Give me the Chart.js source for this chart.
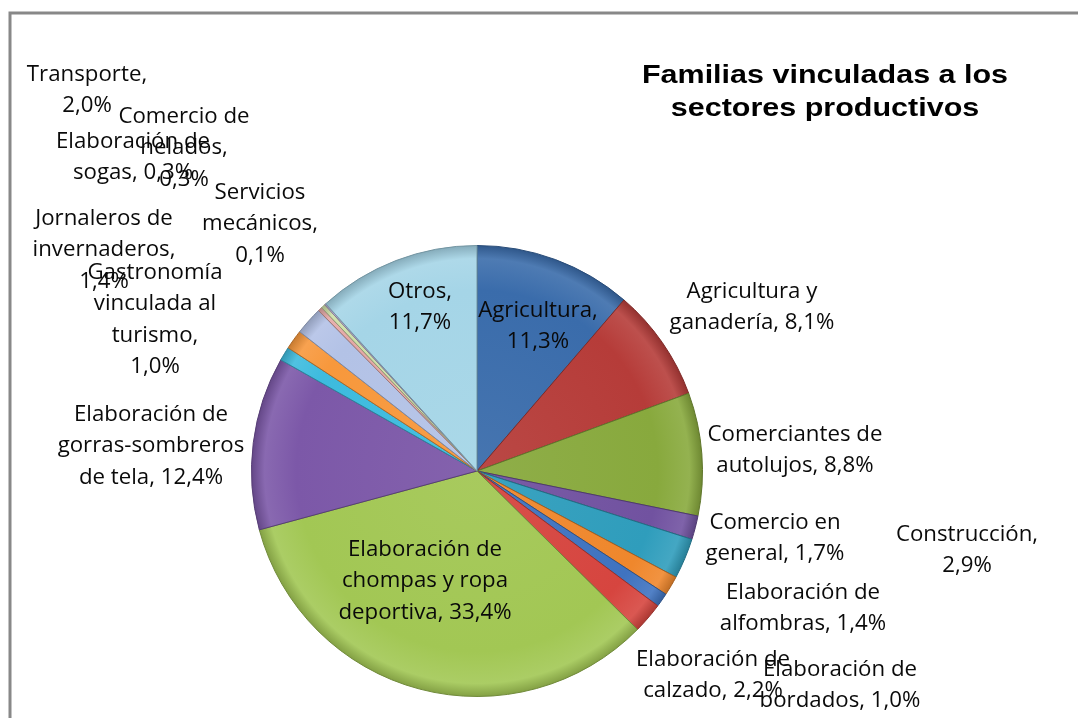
<!DOCTYPE html>
<html><head><meta charset="utf-8">
<script src="https://cdn.jsdelivr.net/npm/chart.js@4/dist/chart.umd.min.js"></script>
<style>html,body{margin:0;padding:0;background:#fff;overflow:hidden}canvas{display:block}</style>
</head><body>
<canvas id="c" width="1078" height="718"></canvas>
<script>
// ---- data ----
const categories = [
  "Agricultura",
  "Agricultura y ganadería",
  "Comerciantes de autolujos",
  "Comercio en general",
  "Construcción",
  "Elaboración de alfombras",
  "Elaboración de bordados",
  "Elaboración de calzado",
  "Elaboración de chompas y ropa deportiva",
  "Elaboración de gorras-sombreros de tela",
  "Gastronomía vinculada al turismo",
  "Jornaleros de invernaderos",
  "Transporte",
  "Elaboración de sogas",
  "Comercio de helados",
  "Servicios mecánicos",
  "Otros"
];
const values = [11.3, 8.1, 8.8, 1.7, 2.9, 1.4, 1.0, 2.2, 33.4, 12.4, 1.0, 1.4, 2.0, 0.3, 0.3, 0.1, 11.7];
const titleLines = ["Familias vinculadas a los", "sectores productivos"];

// ---- style / layout ----
const colors = ["#3a6cab","#b63c39","#88a93d","#7152a0","#2f9dbc","#ef872c","#3f73c0","#d6453f",
                "#a2c754","#7c58a8","#3dbbde","#f7983c","#b3c2e6","#e4a8a6","#cddfa8","#bcadd6","#a5d5e7"];
// words per line for each label
const labelWrap = [[1,1],[2,2],[2,2],[2,2],[1,1],[2,2],[2,2],[2,2],[2,3,2],[2,1,3],[1,2,1,1],[2,1,1],[1,1],[2,2],[2,1,1],[1,1,1],[1,1]];
// label centre (x) and first-line centre (y)
const labelAnchor = [[538,311],[752,292],[795,435],[775,523],[967,535],[803,593],[840,670],[713,660],
                     [425,550],[151,415],[155,273],[104,219],[87,75],[133,142],[184,117],[260,193],[420,292]];
const LINE_H = 31.5;

function hexToRgb(h){h=h.replace('#','');return [parseInt(h.substr(0,2),16),parseInt(h.substr(2,2),16),parseInt(h.substr(4,2),16)];}
function shade(h,f){const c=hexToRgb(h).map(v=>f>=0?Math.round(v+(255-v)*f):Math.round(v*(1+f)));return `rgb(${c[0]},${c[1]},${c[2]})`;}
function fmt(v){return v.toFixed(1).replace('.',',')+'%';}

const framePlugin = {
  id:'frame',
  beforeDraw(chart){
    const ctx=chart.ctx;ctx.save();
    ctx.fillStyle='#fff';ctx.fillRect(0,0,chart.width,chart.height);
    ctx.strokeStyle='#888';ctx.lineWidth=3;
    ctx.beginPath();ctx.moveTo(10,chart.height);ctx.lineTo(10,13);ctx.lineTo(chart.width,13);ctx.stroke();
    ctx.restore();
  }
};
const labelPlugin = {
  id:'sliceLabels',
  afterDatasetsDraw(chart){
    const ctx=chart.ctx;ctx.save();
    ctx.font='21px "Open Sans"';ctx.fillStyle='#0a0a0a';ctx.textAlign='center';ctx.textBaseline='middle';
    categories.forEach((name,i)=>{
      const words=(name+', '+fmt(values[i])).split(' ');
      let k=0;
      labelWrap[i].forEach((n,li)=>{
        const line=words.slice(k,k+n).join(' ');k+=n;
        ctx.save();ctx.translate(labelAnchor[i][0],labelAnchor[i][1]+li*LINE_H);ctx.scale(1.06,1);
        ctx.fillText(line,0,0);ctx.restore();
      });
    });
    // title
    ctx.font='bold 25px "Liberation Sans"';ctx.fillStyle='#000';
    titleLines.forEach((t,li)=>{
      ctx.save();ctx.translate(825,76+li*33);ctx.scale(1.22,1);ctx.fillText(t,0,0);ctx.restore();
    });
    ctx.restore();
  }
};

new Chart(document.getElementById('c'),{
  type:'pie',
  data:{labels:categories,datasets:[{data:values,
    backgroundColor:(c)=>{
      const col=colors[c.dataIndex];const a=c.chart.chartArea;
      if(!a) return col;
      const cx=(a.left+a.right)/2, cy=(a.top+a.bottom)/2, r=Math.min(a.right-a.left,a.bottom-a.top)/2;
      const g=c.chart.ctx.createRadialGradient(cx,cy,0,cx,cy,r);
      g.addColorStop(0,shade(col,0.06));g.addColorStop(0.8,col);g.addColorStop(0.94,shade(col,0.1));g.addColorStop(1,shade(col,-0.2));
      return g;
    },
    borderColor:(c)=>shade(colors[c.dataIndex],-0.3),
    borderWidth:1
  }]},
  options:{
    responsive:false,devicePixelRatio:1,animation:false,
    layout:{padding:{left:251,right:375,top:245,bottom:21}},
    plugins:{legend:{display:false},tooltip:{enabled:false},title:{display:false}}
  },
  plugins:[framePlugin,labelPlugin]
});
</script>
</body></html>
